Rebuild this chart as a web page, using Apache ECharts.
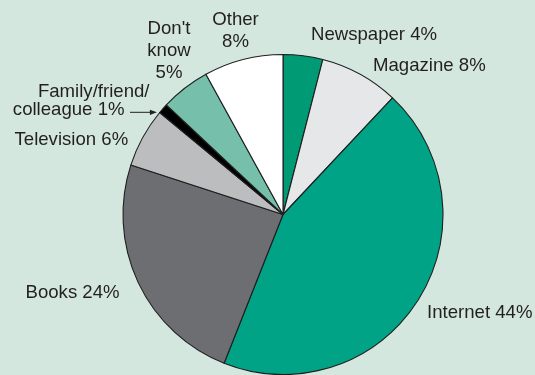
<!DOCTYPE html>
<html>
<head>
<meta charset="utf-8">
<script src="https://cdn.jsdelivr.net/npm/echarts@6/dist/echarts.min.js"></script>
<style>
  html, body { margin: 0; padding: 0; background: #d3e7df; }
  #chart { width: 535px; height: 375px; }
</style>
</head>
<body>
<div id="chart"></div>
<script>
// Where people get their information (% of respondents)
const categories = ['Newspaper', 'Magazine', 'Internet', 'Books', 'Television', 'Family/friend/\ncolleague', "Don't\nknow", 'Other'];
const shares = [4, 8, 44, 24, 6, 1, 5, 8];
const sliceColors = ['#009a74', '#e6e7e9', '#00a386', '#6d6e72', '#bcbdbf', '#000000', '#76bfaa', '#ffffff'];

// Label anchors around the pie (text placement only)
const labelAnchors = [
  { x: 311, y: 34.5, align: 'left' },
  { x: 373, y: 66, align: 'left' },
  { x: 427, y: 312.5, align: 'left' },
  { x: 25.5, y: 292.5, align: 'left' },
  { x: 14.5, y: 140, align: 'left' },
  { x: 149.5, y: 101, align: 'right' },
  { x: 169, y: 51, align: 'center' },
  { x: 235.5, y: 30.7, align: 'center' }
];
// Labels whose value sits on its own line
const stackedValue = [false, false, false, false, false, false, true, true];

const CX = 283, CY = 214.5, R = 160;
const TEXT = '#231f20';
const FONT = "'Liberation Sans', Arial, Helvetica, sans-serif";
const FONT_SIZE = 18.6;

const chart = echarts.init(document.getElementById('chart'), null, { renderer: 'canvas' });

// Arrow pointing from the "Family/friend/colleague" label to its thin slice
const arrowY = 112.3;
const arrowTipX = CX - Math.sqrt(R * R - (CY - arrowY) * (CY - arrowY)) - 3;
const arrowStartX = 130;

chart.setOption({
  backgroundColor: '#d3e7df',
  animation: false,
  textStyle: { fontFamily: FONT },
  graphic: [
    {
      type: 'line',
      shape: { x1: arrowStartX, y1: arrowY, x2: arrowTipX - 5, y2: arrowY },
      style: { stroke: TEXT, lineWidth: 1 },
      z: 10
    },
    {
      type: 'polygon',
      shape: { points: [[arrowTipX, arrowY], [arrowTipX - 7, arrowY - 2.6], [arrowTipX - 7, arrowY + 2.6]] },
      style: { fill: TEXT },
      z: 10
    }
  ],
  series: [{
    type: 'pie',
    center: [CX, CY],
    radius: R,
    startAngle: 90,
    clockwise: true,
    avoidLabelOverlap: false,
    emphasis: { disabled: true },
    itemStyle: { borderColor: '#1e1e1e', borderWidth: 1.1 },
    labelLine: { show: false },
    label: {
      show: true,
      position: 'outside',
      color: TEXT,
      fontFamily: FONT,
      fontSize: FONT_SIZE,
      lineHeight: 22,
      formatter: function (p) {
        const i = p.dataIndex;
        if (i === 5) {
          const parts = categories[i].split('\n');
          return '{a|' + parts[0] + '}\n{b|' + parts[1] + ' ' + shares[i] + '%}';
        }
        return categories[i] + (stackedValue[i] ? '\n' : ' ') + shares[i] + '%';
      },
      rich: {
        a: { fontSize: FONT_SIZE, lineHeight: 18, color: TEXT, fontFamily: FONT },
        b: { fontSize: FONT_SIZE, lineHeight: 18, color: TEXT, fontFamily: FONT, padding: [0, 25, 0, 0] }
      }
    },
    labelLayout: function (params) {
      const a = labelAnchors[params.dataIndex];
      return { x: a.x, y: a.y, align: a.align, verticalAlign: 'middle', hideOverlap: false, moveOverlap: null };
    },
    data: categories.map(function (name, i) {
      return { name: name, value: shares[i], itemStyle: { color: sliceColors[i] } };
    })
  }]
});
</script>
</body>
</html>
